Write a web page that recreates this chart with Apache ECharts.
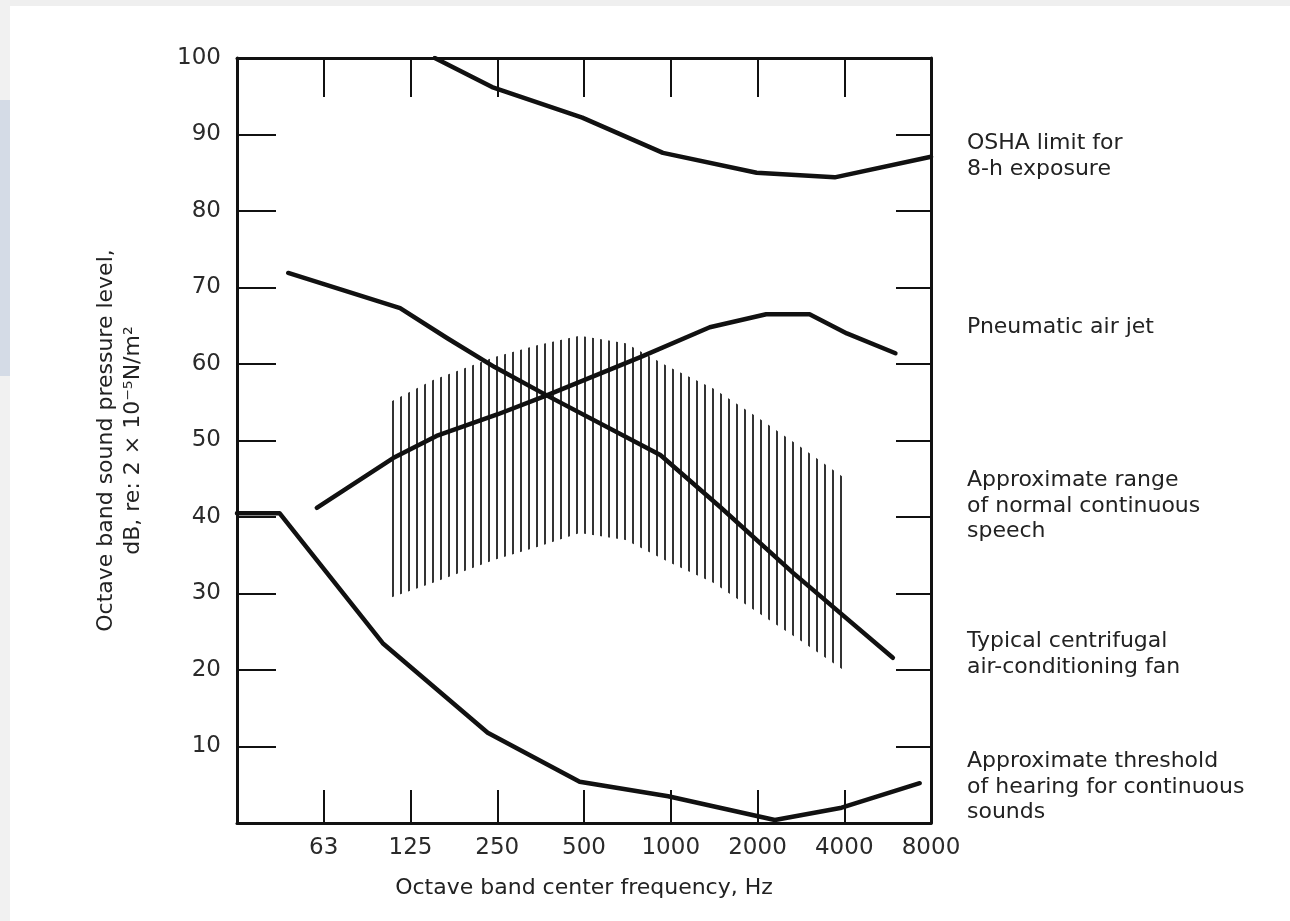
<meta charset="UTF-8">
<script src="https://cdn.jsdelivr.net/npm/echarts@6/dist/echarts.min.js"></script>
<style>
    html, body { margin: 0; padding: 0; background: #fff; }
</style>
<div id="main" style="width: 1290px; height: 921px;"></div>
<script>
    // octave band index: 0 = 63 Hz ... 7 = 8000 Hz
    var freqLabels = ['63', '125', '250', '500', '1000', '2000', '4000', '8000'];
    var dbTicks = [10, 20, 30, 40, 50, 60, 70, 80, 90, 100];

    var oshaLimit = [[1.28, 100], [1.94, 96.2], [2.98, 92.2], [3.91, 87.6], [4.99, 85.0], [5.89, 84.4], [7.0, 87.1]];
    var pneumaticJet = [[-0.08, 41.2], [0.80, 47.7], [1.3, 50.6], [2.0, 53.4], [2.57, 55.9], [3.65, 60.9],
        [4.45, 64.8], [5.1, 66.5], [5.6, 66.5], [6.03, 64.0], [6.59, 61.4]];
    var fan = [[-0.41, 71.9], [0.88, 67.3], [1.42, 63.4], [1.97, 59.6], [2.57, 55.9], [3.88, 48.1],
        [4.57, 41.3], [5.41, 32.7], [6.56, 21.6]];
    var threshold = [[-1, 40.5], [-0.51, 40.5], [0.68, 23.5], [1.89, 11.8], [2.95, 5.4], [3.97, 3.5],
        [5.2, 0.4], [5.97, 2.0], [6.87, 5.2]];

    var speechX = [0.76, 1.26, 1.97, 2.47, 2.95, 3.48, 3.98, 4.49, 4.99, 5.49, 5.99];
    var speechHigh = [55.0, 57.9, 60.9, 62.5, 63.7, 62.7, 59.6, 56.8, 53.1, 49.2, 45.2];
    var speechLow = [29.4, 31.4, 34.4, 36.1, 37.9, 37.0, 34.1, 31.4, 27.6, 23.9, 20.0];

    var font = 'DejaVu Sans';

    // vertical hatch pattern for the speech range
    var hatch = document.createElement('canvas');
    hatch.width = 8;
    hatch.height = 8;
    var hctx = hatch.getContext('2d');
    hctx.fillStyle = '#333';
    hctx.fillRect(0, 0, 2, 8);

    var mychart = echarts.init(document.getElementById('main'));

    function curve(name, data) {
        return {
            name: name,
            type: 'line',
            data: data,
            showSymbol: false,
            silent: true,
            z: 3,
            lineStyle: { color: '#111', width: 4.5, cap: 'round', join: 'round' }
        };
    }

    var frameLine = { show: true, onZero: false, lineStyle: { color: '#111', width: 3 } };

    var option = {
        backgroundColor: '#fff',
        animation: false,
        grid: { left: 237, right: 359, top: 58, bottom: 98 },
        xAxis: [
            {
                type: 'value', min: -1, max: 7, interval: 1, position: 'bottom',
                name: 'Octave band center frequency, Hz',
                nameLocation: 'middle', nameGap: 54,
                nameTextStyle: { fontFamily: font, fontSize: 22, color: '#222' },
                axisLine: frameLine,
                axisTick: { show: true, inside: true, length: 33, lineStyle: { color: '#111', width: 2 } },
                splitLine: { show: false },
                axisLabel: {
                    margin: 14, fontFamily: font, fontSize: 23, color: '#2a2a2a',
                    showMinLabel: true, showMaxLabel: true,
                    formatter: function (v) { return freqLabels[v] || ''; }
                }
            },
            {
                type: 'value', min: -1, max: 7, interval: 1, position: 'top',
                axisLine: frameLine,
                axisTick: { show: true, inside: true, length: 39, lineStyle: { color: '#111', width: 2 } },
                splitLine: { show: false },
                axisLabel: { show: false }
            }
        ],
        yAxis: [
            {
                type: 'value', min: 0, max: 100, interval: 10, position: 'left',
                name: 'Octave band sound pressure level,\ndB, re: 2 × 10⁻⁵N/m²',
                nameLocation: 'middle', nameRotate: 90, nameGap: 90,
                nameTextStyle: { fontFamily: font, fontSize: 22, color: '#222', lineHeight: 27 },
                axisLine: frameLine,
                axisTick: { show: true, inside: true, length: 39, lineStyle: { color: '#111', width: 2 } },
                splitLine: { show: false },
                axisLabel: {
                    margin: 16, fontFamily: font, fontSize: 23, color: '#2a2a2a',
                    showMaxLabel: true,
                    formatter: function (v) { return dbTicks.indexOf(v) >= 0 ? String(v) : ''; }
                }
            },
            {
                type: 'value', min: 0, max: 100, interval: 10, position: 'right',
                axisLine: frameLine,
                axisTick: { show: true, inside: true, length: 35, lineStyle: { color: '#111', width: 2 } },
                splitLine: { show: false },
                axisLabel: { show: false }
            }
        ],
        graphic: [
            { type: 'rect', z: -10, shape: { x: 0, y: 0, width: 1290, height: 6 }, style: { fill: '#efefef' } },
            { type: 'rect', z: -10, shape: { x: 0, y: 0, width: 10, height: 921 }, style: { fill: '#f1f1f1' } },
            { type: 'rect', z: -9, shape: { x: 0, y: 100, width: 10, height: 276 }, style: { fill: '#d4dbe6' } },
            {
                type: 'text', left: 967, top: 130,
                style: { text: 'OSHA limit for\n8-h exposure', font: '22px ' + font, fill: '#222', lineHeight: 26 }
            },
            {
                type: 'text', left: 967, top: 314,
                style: { text: 'Pneumatic air jet', font: '22px ' + font, fill: '#222', lineHeight: 26 }
            },
            {
                type: 'text', left: 967, top: 468,
                style: { text: 'Approximate range\nof normal continuous\nspeech', font: '22px ' + font, fill: '#222', lineHeight: 25.5 }
            },
            {
                type: 'text', left: 967, top: 629,
                style: { text: 'Typical centrifugal\nair-conditioning fan', font: '22px ' + font, fill: '#222', lineHeight: 25.5 }
            },
            {
                type: 'text', left: 967, top: 749,
                style: { text: 'Approximate threshold\nof hearing for continuous\nsounds', font: '22px ' + font, fill: '#222', lineHeight: 25.5 }
            }
        ],
        series: [
            {
                name: 'Approximate range of normal continuous speech',
                type: 'custom',
                coordinateSystem: 'cartesian2d',
                silent: true,
                z: 1,
                data: [[speechX[0], speechHigh[0]]],
                renderItem: function (params, api) {
                    var pts = [];
                    for (var i = 0; i < speechX.length; i++) {
                        pts.push(api.coord([speechX[i], speechHigh[i]]));
                    }
                    for (var j = speechX.length - 1; j >= 0; j--) {
                        pts.push(api.coord([speechX[j], speechLow[j]]));
                    }
                    return {
                        type: 'polygon',
                        shape: { points: pts },
                        style: { fill: { image: hatch, repeat: 'repeat' } }
                    };
                }
            },
            curve('OSHA limit for 8-h exposure', oshaLimit),
            curve('Pneumatic air jet', pneumaticJet),
            curve('Typical centrifugal air-conditioning fan', fan),
            curve('Approximate threshold of hearing for continuous sounds', threshold)
        ]
    };
    mychart.setOption(option);
</script>
